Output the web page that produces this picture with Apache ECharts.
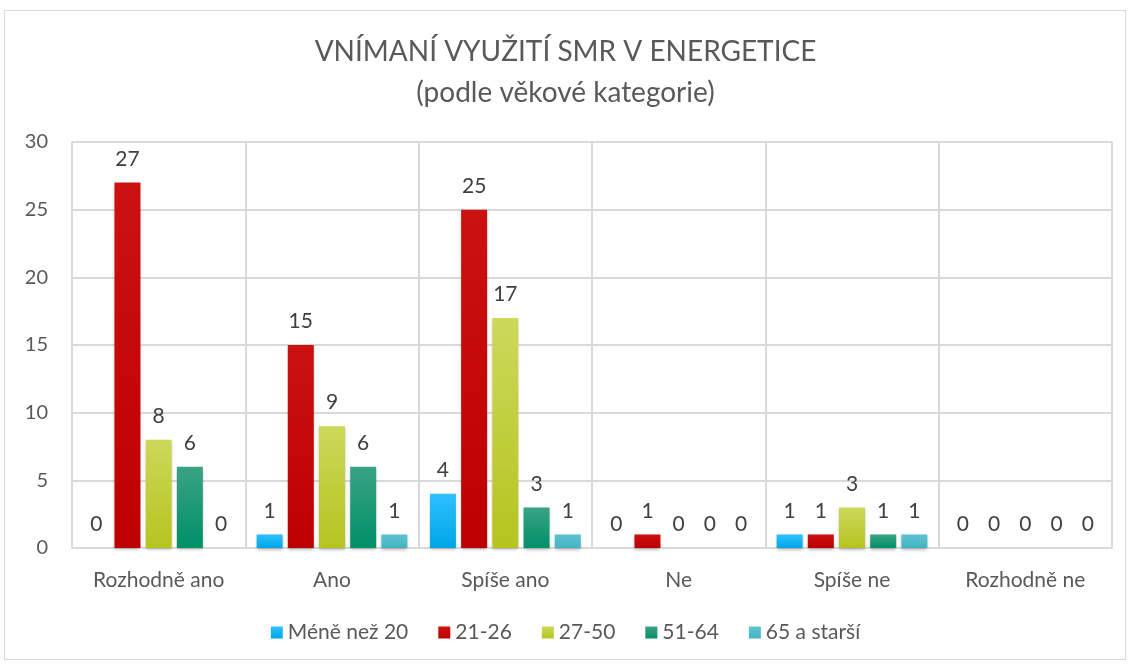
<!DOCTYPE html>
<html>
<head>
<meta charset="utf-8">
<script src="https://cdn.jsdelivr.net/npm/echarts@6/dist/echarts.min.js"></script>
<style>
  html, body { margin: 0; padding: 0; background: #fff; }
  #chart { width: 1131px; height: 665px; }
  #frame { position: absolute; left: 4px; top: 10px; width: 1122px; height: 650px; border: 1px solid #d9d9d9; box-sizing: border-box; pointer-events: none; }
</style>
</head>
<body>
<div id="chart"></div>
<div id="frame"></div>
<script>
// kategorie odpovědí
const kategorie = ['Rozhodně ano', 'Ano', 'Spíše ano', 'Ne', 'Spíše ne', 'Rozhodně ne'];

// věkové skupiny
const mene20 = [0, 1, 4, 0, 1, 0];
const vek21_26 = [27, 15, 25, 1, 1, 0];
const vek27_50 = [8, 9, 17, 0, 3, 0];
const vek51_64 = [6, 6, 3, 0, 1, 0];
const vek65 = [0, 1, 1, 0, 1, 0];

const skupiny = [
    { name: 'Méně než 20', data: mene20, top: '#2ec0ff', bottom: '#00a6e6' },
    { name: '21-26', data: vek21_26, top: '#cc1111', bottom: '#bd0000' },
    { name: '27-50', data: vek27_50, top: '#cdd85a', bottom: '#b5c41f' },
    { name: '51-64', data: vek51_64, top: '#3aa384', bottom: '#009068' },
    { name: '65 a starší', data: vek65, top: '#5ec3d0', bottom: '#43b3c3' }
];

const font = 'Lato, "Open Sans", sans-serif';
const chart = echarts.init(document.getElementById('chart'));

const series = skupiny.map(s => ({
    name: s.name,
    type: 'bar',
    data: s.data,
    barWidth: 26,
    barGap: '20%',
    itemStyle: {
        color: new echarts.graphic.LinearGradient(0, 0, 0, 1, [
            { offset: 0, color: s.top },
            { offset: 1, color: s.bottom }
        ]),
        shadowColor: 'rgba(0,0,0,0.25)',
        shadowBlur: 3,
        shadowOffsetY: 2
    },
    label: {
        show: true,
        position: 'top',
        distance: 13,
        color: '#404040',
        fontSize: 21,
        fontFamily: font
    }
}));

chart.setOption({
    animation: false,
    title: {
        text: 'VNÍMANÍ VYUŽITÍ SMR V ENERGETICE\n(podle věkové kategorie)',
        left: 'center',
        top: 26,
        textStyle: {
            color: '#595959',
            fontSize: 28,
            fontWeight: 'normal',
            fontFamily: font,
            lineHeight: 41
        }
    },
    legend: {
        bottom: 17,
        left: 'center',
        itemWidth: 12,
        itemHeight: 12,
        itemGap: 30,
        icon: 'rect',
        textStyle: { color: '#595959', fontSize: 21, fontFamily: font }
    },
    grid: { left: 72, right: 19, top: 142, bottom: 117 },
    xAxis: {
        type: 'category',
        data: kategorie,
        axisLine: { lineStyle: { color: '#d9d9d9', width: 2 } },
        axisTick: { show: false },
        splitLine: { show: true, lineStyle: { color: '#d9d9d9', width: 2 } },
        axisLabel: { color: '#595959', fontSize: 21, fontFamily: font, margin: 22 }
    },
    yAxis: {
        type: 'value',
        min: 0,
        max: 30,
        interval: 5,
        axisLine: { show: false },
        axisTick: { show: false },
        splitLine: { lineStyle: { color: '#d9d9d9', width: 2 } },
        axisLabel: { color: '#595959', fontSize: 20, fontFamily: font, margin: 24 }
    },
    series: series
});
</script>
</body>
</html>
